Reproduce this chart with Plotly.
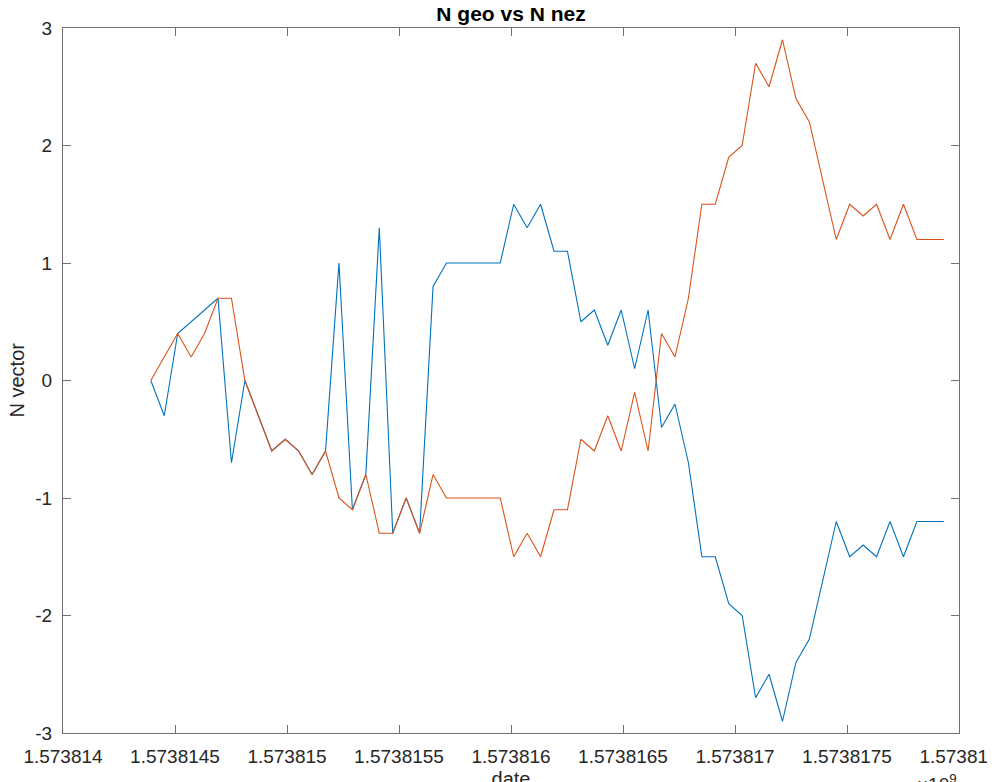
import plotly.graph_objects as go

# ---- data ----
time_base = 1573814000
time_offset_s = [392, 452, 512, 572, 632, 692, 752, 812, 872, 932,
                 992, 1052, 1112, 1172, 1232, 1292, 1352, 1412, 1472, 1532,
                 1592, 1652, 1712, 1772, 1832, 1892, 1952, 2012, 2072, 2132,
                 2192, 2252, 2312, 2372, 2432, 2492, 2552, 2612, 2672, 2732,
                 2792, 2852, 2912, 2972, 3032, 3092, 3152, 3212, 3272, 3332,
                 3392, 3452, 3512, 3572, 3632, 3692, 3752, 3812, 3872, 3932]

n_geo = [0, -0.3, 0.4, 0.5, 0.6, 0.7, -0.7, 0, -0.3, -0.6,
         -0.5, -0.6, -0.8, -0.6, 1.0, -1.1, -0.8, 1.3, -1.3, -1.0,
         -1.3, 0.8, 1.0, 1.0, 1.0, 1.0, 1.0, 1.5, 1.3, 1.5,
         1.1, 1.1, 0.5, 0.6, 0.3, 0.6, 0.1, 0.6, -0.4, -0.2,
         -0.7, -1.5, -1.5, -1.9, -2.0, -2.7, -2.5, -2.9, -2.4, -2.2,
         -1.7, -1.2, -1.5, -1.4, -1.5, -1.2, -1.5, -1.2, -1.2, -1.2]

n_nez = [0, 0.2, 0.4, 0.2, 0.4, 0.7, 0.7, 0, -0.3, -0.6,
         -0.5, -0.6, -0.8, -0.6, -1.0, -1.1, -0.8, -1.3, -1.3, -1.0,
         -1.3, -0.8, -1.0, -1.0, -1.0, -1.0, -1.0, -1.5, -1.3, -1.5,
         -1.1, -1.1, -0.5, -0.6, -0.3, -0.6, -0.1, -0.6, 0.4, 0.2,
         0.7, 1.5, 1.5, 1.9, 2.0, 2.7, 2.5, 2.9, 2.4, 2.2,
         1.7, 1.2, 1.5, 1.4, 1.5, 1.2, 1.5, 1.2, 1.2, 1.2]

x_tick_vals = [1573814000, 1573814500, 1573815000, 1573815500, 1573816000,
               1573816500, 1573817000, 1573817500, 1573818000]
x_tick_text = ["1.573814", "1.5738145", "1.573815", "1.5738155", "1.573816",
               "1.5738165", "1.573817", "1.5738175", "1.573818"]
y_tick_vals = [-3, -2, -1, 0, 1, 2, 3]
y_tick_text = ["-3", "-2", "-1", "0", "1", "2", "3"]

time = [time_base + s for s in time_offset_s]

FONT = "Liberation Sans, Arial, Helvetica, sans-serif"
AX = "#707070"
TXT = "#262626"

fig = go.Figure()
fig.add_trace(go.Scatter(x=time, y=n_geo, mode="lines", name="N geo",
                         line=dict(color="#0072BD", width=1.1)))
fig.add_trace(go.Scatter(x=time, y=n_nez, mode="lines", name="N nez",
                         line=dict(color="#D95319", width=1.1)))

axis_common = dict(showgrid=False, zeroline=False, showline=True, linecolor=AX,
                   linewidth=1, mirror="ticks", ticks="inside", ticklen=8,
                   tickcolor=AX, tickwidth=1, automargin=False,
                   ticklabeloverflow="allow",
                   tickfont=dict(family=FONT, size=19, color=TXT))

fig.update_layout(
    width=995, height=782,
    margin=dict(l=55, r=44, t=20, b=57, autoexpand=False),
    paper_bgcolor="white", plot_bgcolor="white",
    showlegend=False,
    title=dict(text="<b>N geo vs N nez</b>", x=0.5, xref="paper",
               y=1, yref="paper", yanchor="bottom", pad=dict(b=7),
               automargin=False,
               font=dict(family=FONT, size=21, color="#000000")),
    xaxis=dict(range=[1573814000, 1573818000], tickmode="array",
               tickvals=x_tick_vals, ticktext=x_tick_text,
               ticklabelstandoff=6,
               title=dict(text="date", standoff=11,
                          font=dict(family=FONT, size=20, color=TXT)),
               **axis_common),
    yaxis=dict(range=[-3, 3], tickmode="array",
               tickvals=y_tick_vals, ticktext=y_tick_text,
               ticklabelstandoff=6,
               **axis_common),
)

# y-axis title placed as a rotated annotation so it can sit close to the edge
fig.add_annotation(text="N vector", textangle=-90, xref="paper", yref="paper",
                   x=0, y=0.5, xanchor="center", yanchor="middle", xshift=-47,
                   showarrow=False,
                   font=dict(family=FONT, size=20, color=TXT))

fig.add_annotation(text="×10<sup>9</sup>", xref="paper", yref="paper",
                   x=1.0, y=0, xanchor="right", yanchor="top", yshift=-36,
                   showarrow=False,
                   font=dict(family=FONT, size=19, color=TXT))

fig.write_html("out.html")
